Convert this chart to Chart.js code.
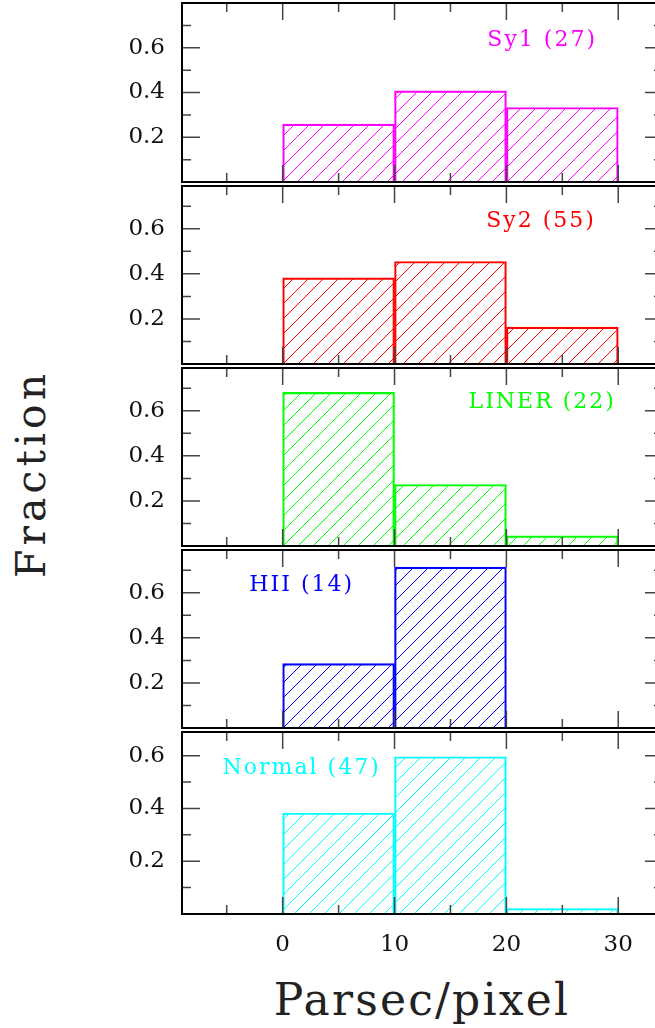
<!DOCTYPE html>
<html>
<head>
<meta charset="utf-8">
<script src="https://cdn.jsdelivr.net/npm/chart.js@4.4.1/dist/chart.umd.min.js"></script>
<style>
body { margin: 0; background: #fff; overflow: hidden; width: 655px; height: 1028px; }
#wrap { position: relative; width: 655px; height: 1028px; overflow: hidden; }
canvas { position: absolute; left: 0; }
.title { position: absolute; font-family: "DejaVu Serif"; color: #222; white-space: nowrap; }
#ytitle { left: 31px; top: 474px; font-size: 41px; line-height: 41px; letter-spacing: 4px;
  transform: translate(-50%, -50%) rotate(-90deg); }
#xtitle { left: 422px; top: 978px; font-size: 44px; line-height: 44px; letter-spacing: 2.2px;
  transform: translateX(-50%); }
</style>
</head>
<body>
<div id="wrap">
  <div class="title" id="ytitle">Fraction</div>
  <div class="title" id="xtitle">Parsec/pixel</div>
</div>
<script>
// bins of 10 pc/pixel, centred at 5, 15, 25
const binCenters = [5, 15, 25];
const sy1 = [0.259, 0.407, 0.333];
const sy2 = [0.382, 0.455, 0.164];
const liner = [0.682, 0.273, 0.045];
const hii = [0.286, 0.714, 0];
const normal = [0.383, 0.596, 0.021];
const panelNames = ['Sy1 (27)', 'Sy2 (55)', 'LINER (22)', 'HII (14)', 'Normal (47)'];
const xMajor = [0, 10, 20, 30];
const xMinor = [-5, 5, 15, 25];
const yMajor = [0.2, 0.4, 0.6];
const yMinor = [0.1, 0.3, 0.5, 0.7];

const panelData = [sy1, sy2, liner, hii, normal];
const colors = ['#ff00ff', '#ff0000', '#00ff00', '#0000ff', '#00ffff'];
const yMax = [0.8, 0.79, 0.79, 0.79, 0.69];
const labelPos = [[23.2, 0.635], [23.1, 0.635], [23.2, 0.637], [1.7, 0.632], [1.7, 0.553]];
const panelTop = [3, 186, 368, 550, 732];
const panelBottom = [186, 368, 550, 732, 914];

const wrap = document.getElementById('wrap');
const tickFont = { family: 'DejaVu Serif', size: 23 };

// crisp "/" hatching, one pixel wide, no anti-aliasing
function hatch(ctx, color) {
  const s = 15;
  const c = document.createElement('canvas');
  c.width = s; c.height = s;
  const g = c.getContext('2d');
  g.fillStyle = color;
  for (let k = 0; k < s; k++) g.fillRect(k, s - 1 - k, 1, 1);
  return ctx.createPattern(c, 'repeat');
}

// frame, inward ticks and panel label
const frameTicks = {
  id: 'frameTicks',
  afterDraw(chart, args, opts) {
    const { ctx, chartArea: a, scales: { x, y } } = chart;
    ctx.save();
    ctx.strokeStyle = '#444';
    ctx.lineWidth = 1.5;
    ctx.beginPath();
    const xt = (list, len) => list.forEach(v => {
      const px = x.getPixelForValue(v);
      ctx.moveTo(px, a.bottom); ctx.lineTo(px, a.bottom - len);
      ctx.moveTo(px, a.top); ctx.lineTo(px, a.top + len);
    });
    const yt = (list, len) => list.forEach(v => {
      if (v > y.max) return;
      const py = y.getPixelForValue(v);
      ctx.moveTo(a.left, py); ctx.lineTo(a.left + len, py);
      ctx.moveTo(a.right, py); ctx.lineTo(a.right - len, py);
    });
    xt(xMajor, 17); xt(xMinor, 9);
    yt(yMajor, 18); yt(yMinor, 9);
    ctx.stroke();

    ctx.strokeStyle = '#000';
    ctx.lineWidth = 2;
    ctx.strokeRect(a.left, a.top, a.right - a.left, a.bottom - a.top);

    ctx.fillStyle = opts.color;
    ctx.font = '22px "DejaVu Serif"';
    ctx.letterSpacing = '2px';
    ctx.textAlign = 'center';
    ctx.textBaseline = 'middle';
    ctx.fillText(opts.text, x.getPixelForValue(opts.lx), y.getPixelForValue(opts.ly));
    ctx.restore();
  }
};

panelData.forEach((vals, i) => {
  const last = i === panelData.length - 1;
  const top = panelTop[i] - 4;
  const h = last ? 1028 - top : panelBottom[i] - panelTop[i] + 8;
  const canvas = document.createElement('canvas');
  canvas.width = 666;
  canvas.height = h;
  canvas.style.top = top + 'px';
  wrap.appendChild(canvas);
  const ctx = canvas.getContext('2d');

  new Chart(ctx, {
    type: 'bar',
    data: {
      datasets: [{
        data: binCenters.map((x, k) => ({ x: x, y: vals[k] })),
        backgroundColor: hatch(ctx, colors[i]),
        borderColor: colors[i],
        borderWidth: 1.5,
        borderSkipped: 'start',
        barPercentage: 1,
        categoryPercentage: 1
      }]
    },
    options: {
      responsive: false,
      animation: false,
      devicePixelRatio: 1,
      layout: { padding: { left: 0, right: 3, top: 4, bottom: last ? 0 : 4 } },
      plugins: {
        legend: { display: false },
        tooltip: { enabled: false },
        frameTicks: { text: panelNames[i], color: colors[i], lx: labelPos[i][0], ly: labelPos[i][1] }
      },
      scales: {
        x: {
          type: 'linear',
          min: -9,
          max: 34,
          offset: false,
          display: last,
          grid: { display: false, offset: false },
          border: { display: false },
          afterBuildTicks: s => { s.ticks = xMajor.map(v => ({ value: v })); },
          afterFit: s => {
            s.height = h - (panelBottom[i] - top);
            s.paddingLeft = 0; s.paddingRight = 0;
          },
          ticks: { padding: 9, font: tickFont, color: '#111', maxRotation: 0, callback: v => String(v) }
        },
        y: {
          min: 0,
          max: yMax[i],
          grid: { display: false },
          border: { display: false },
          afterBuildTicks: s => { s.ticks = yMajor.map(v => ({ value: v })); },
          afterFit: s => {
            s.width = 182;
            s.paddingTop = 0; s.paddingBottom = 0;
          },
          ticks: { padding: 9, font: tickFont, color: '#111', callback: v => v.toFixed(1) }
        }
      }
    },
    plugins: [frameTicks]
  });
});
</script>
</body>
</html>
